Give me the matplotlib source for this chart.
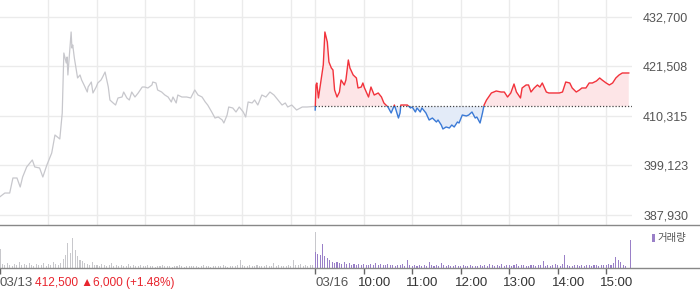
import matplotlib
matplotlib.use('Agg')
import matplotlib.pyplot as plt
from matplotlib.patches import Rectangle
from matplotlib.lines import Line2D
import matplotlib.transforms as mtransforms

plt.rcParams['font.family'] = ['Liberation Sans', 'Noto Sans CJK KR', 'DejaVu Sans']

# -----------------------------
# data: minutes after 09:00 and price
# -----------------------------
day1_min = [0, 6, 12, 16, 21, 25, 28, 33, 40, 43, 49, 53, 58, 64, 68, 74, 77, 79, 82, 83,
            84, 87, 88, 89, 90, 92, 94, 96, 99, 101, 104, 108, 109, 113, 115, 119, 121, 125,
            127, 130, 134, 136, 140, 143, 146, 151, 153, 157, 160, 163, 167, 171, 176, 179,
            183, 188, 189, 193, 195, 200, 204, 208, 212, 214, 218, 220, 225, 231, 236, 241,
            245, 250, 254, 257, 262, 266, 270, 275, 277, 281, 283, 288, 292, 296, 301, 304,
            307, 312, 315, 319, 324, 329, 334, 339, 344, 349, 353, 356, 361, 367, 374, 380,
            390]
day1_price = [392070, 392900, 392900, 396300, 396300, 394260, 396520, 398790, 400370, 398790,
              398560, 396520, 399240, 401950, 406020, 405120, 410990, 424560, 422300, 423660,
              419590, 426820, 429310, 425690, 426370, 423430, 421170, 418910, 419590, 418460,
              417330, 415740, 416870, 418000, 415520, 416870, 417780, 418460, 419130, 420260,
              416870, 413930, 413260, 412800, 414390, 414610, 415740, 414390, 413930, 415740,
              414610, 415520, 416870, 416870, 416650, 417330, 418000, 417780, 416200, 415740,
              415060, 414610, 413480, 414610, 413260, 415060, 414610, 414610, 414390, 416200,
              415060, 414610, 413480, 412800, 411220, 409860, 410090, 409410, 408730, 410540,
              412350, 412130, 411220, 412350, 411220, 410090, 413480, 413260, 413930, 412800,
              415060, 414610, 415740, 415060, 413930, 412800, 413260, 412350, 412800, 411670,
              412350, 412350, 412500]

day2_min = [0, 1, 2, 4, 6, 10, 12, 15, 16, 17, 20, 22, 24, 27, 30, 32, 36, 38, 41, 43, 47,
            51, 53, 57, 59, 61, 66, 69, 73, 78, 82, 85, 90, 94, 98, 100, 103, 105, 106, 110,
            114, 118, 120, 124, 126, 130, 132, 137, 141, 145, 150, 152, 156, 158, 162, 166,
            169, 172, 176, 178, 182, 187, 190, 194, 198, 200, 204, 207, 209, 212, 218, 224,
            230, 234, 238, 242, 246, 249, 254, 256, 261, 264, 267, 271, 275, 278, 281, 286,
            289, 296, 302, 306, 310, 315, 318, 323, 327, 330, 335, 339, 343, 348, 352, 355,
            360, 364, 368, 372, 376, 380, 388]
day2_price = [411670, 417330, 417780, 414390, 416870, 421850, 429310, 427050, 424790, 422530,
              421170, 420720, 416200, 414610, 415740, 418460, 417330, 418460, 422980, 421170,
              419590, 418910, 416650, 416870, 417780, 416650, 414610, 416870, 415060, 415520,
              414610, 413260, 412350, 411000, 412800, 411670, 409860, 411000, 412800, 412800,
              412800, 412130, 412350, 411220, 412130, 411220, 412130, 411000, 409410, 409860,
              408960, 409410, 408280, 407380, 407830, 407600, 408280, 407830, 408960, 408730,
              410540, 410320, 410540, 411220, 409860, 410090, 408730, 411000, 412800, 413930,
              415520, 415970, 415740, 415740, 414610, 415520, 417550, 415740, 414390, 416650,
              417330, 417330, 415740, 416650, 417330, 416870, 417780, 415740, 415520, 415520,
              415520, 415740, 418000, 417780, 416650, 415740, 416200, 416650, 416650, 417780,
              417780, 418230, 418910, 418460, 417780, 417330, 417780, 418910, 419590, 420040,
              420040]

prev_close = 412500
ytick_vals = [387930, 399123, 410315, 421508, 432700]

# volume, one bar per 3 minutes (last entry is closing auction at 15:30)
vol_step = 3
day1_vol = [19, 4, 3, 5, 3, 2, 4, 3, 6, 3,
            4, 3, 5, 3, 2, 4, 3, 3, 5, 2,
            4, 3, 6, 4, 3, 5, 9, 13, 25, 15,
            30, 18, 12, 8, 7, 5, 4, 3, 6, 3,
            3, 2, 4, 3, 2, 3, 5, 2, 3, 2,
            3, 2, 2, 4, 2, 3, 2, 2, 3, 2,
            2, 3, 2, 2, 1, 2, 2, 3, 2, 2,
            2, 1, 2, 2, 3, 2, 1, 2, 2, 2,
            2, 2, 1, 2, 3, 2, 2, 1, 2, 2,
            2, 2, 3, 2, 1, 2, 2, 2, 3, 8,
            3, 2, 2, 3, 2, 2, 3, 2, 2, 2,
            3, 2, 2, 5, 2, 3, 2, 2, 2, 3,
            2, 8, 3, 3, 4, 2, 3, 2, 3, 3, 36]
day2_vol = [16, 14, 13, 24, 12, 10, 8, 6, 5, 6,
            5, 4, 6, 4, 5, 3, 4, 3, 4, 3,
            4, 3, 3, 4, 3, 5, 3, 4, 3, 3,
            4, 3, 3, 2, 3, 3, 4, 2, 8, 3,
            2, 3, 2, 3, 2, 3, 2, 6, 3, 2,
            3, 2, 5, 3, 2, 3, 2, 2, 3, 2,
            2, 3, 2, 2, 3, 2, 2, 2, 3, 2,
            3, 2, 4, 3, 2, 3, 2, 4, 2, 3,
            3, 2, 3, 4, 2, 3, 3, 2, 2, 3,
            3, 2, 3, 3, 7, 2, 3, 2, 3, 4,
            3, 2, 4, 13, 3, 2, 2, 3, 3, 2,
            3, 2, 3, 3, 2, 3, 3, 2, 3, 3,
            3, 4, 3, 5, 11, 8, 6, 3, 2, 0, 28]

hour_labels = ['10:00', '11:00', '12:00', '13:00', '14:00', '15:00']
day_labels = ['03/13', '03/16']
change_text = '412,500 \u25b26,000 (+1.48%)'

# -----------------------------
# layout
# -----------------------------
W, H = 700, 289
fig = plt.figure(figsize=(7, 2.89), dpi=100)
ax = fig.add_axes([0, 1 - 225 / H, 632 / W, 225 / H])
axv = fig.add_axes([0, 1 - 268 / H, 632 / W, 42 / H])

day2_off = 390
x2 = [m + day2_off for m in day2_min]
xmax = 782

red = '#f2333c'
blue = '#3b7ad6'
gray_line = '#c7c7cc'

ax.plot(day1_min, day1_price, color=gray_line, lw=0.9)

ax.fill_between(x2, day2_price, prev_close, where=[p >= prev_close for p in day2_price],
                interpolate=True, color='#fde5e7', lw=0)
ax.fill_between(x2, day2_price, prev_close, where=[p <= prev_close for p in day2_price],
                interpolate=True, color='#e3ebf8', lw=0)

ymin, ymax = 385669, 436544
up, = ax.plot(x2, day2_price, color=red, lw=1.0)
dn, = ax.plot(x2, day2_price, color=blue, lw=1.0)
up.set_clip_path(Rectangle((0, prev_close), xmax, ymax - prev_close, transform=ax.transData))
dn.set_clip_path(Rectangle((0, ymin), xmax, prev_close - ymin, transform=ax.transData))

ax.plot([day2_off, xmax], [prev_close, prev_close], color='#444444', lw=0.9, ls=(0, (1, 1.5)))

ax.set_xlim(0, xmax)
ax.set_ylim(ymin, ymax)
grid_x = [60, 120, 180, 240, 300, 360, 390, 450, 510, 570, 630, 690, 750]
ax.set_xticks(grid_x)
ax.set_xticklabels([])
ax.set_yticks(ytick_vals)
ax.set_yticklabels([f'{v:,}' for v in ytick_vals], color='#555555', fontsize=9)
ax.yaxis.tick_right()
ax.tick_params(axis='both', length=0)
ax.tick_params(axis='y', pad=8)
ax.grid(True, color='#ebebeb', lw=1)
ax.set_axisbelow(True)
for s in ax.spines.values():
    s.set_visible(False)

# volume
v1x = [i * vol_step for i in range(len(day1_vol) - 1)] + [390]
v2x = [i * vol_step + day2_off for i in range(len(day2_vol) - 1)] + [day2_off + 390]
axv.bar(v1x, day1_vol, width=1.3, color='#c8c8cc', lw=0)
axv.bar(v2x, day2_vol, width=1.3, color='#9a80c8', lw=0)
axv.set_xlim(0, xmax)
axv.set_ylim(0, 42)
axv.set_yticks([])
tick_x = [0, 390, 450, 510, 570, 630, 690, 750]
axv.set_xticks(tick_x)
axv.set_xticklabels([])
axv.tick_params(axis='x', length=4, color='#666666', width=1)
for s in axv.spines.values():
    s.set_visible(False)

# full width separator lines
for yy in (225, 268):
    fig.add_artist(Line2D([0, 1], [1 - yy / H] * 2, transform=fig.transFigure,
                          color='#888888', lw=1))

# x labels
lab_y = 1 - 283 / H
trans = mtransforms.blended_transform_factory(axv.transData, fig.transFigure)
shift = trans + mtransforms.ScaledTranslation(-6 / 100, 0, fig.dpi_scale_trans)
axv.text(0, lab_y, day_labels[0], transform=trans, ha='left', va='center',
         fontsize=9.5, color='#555555')
fig.text(35 / W, lab_y, change_text, ha='left', va='center', fontsize=8.6, color='#e8252e')
axv.text(day2_off, lab_y, day_labels[1], transform=trans, ha='left', va='center',
         fontsize=9.5, color='#555555')
for xx, lab in zip(tick_x[2:], hour_labels):
    axv.text(xx, lab_y, lab, transform=shift, ha='left', va='center',
             fontsize=9.5, color='#333333')

# volume legend
fig.add_artist(Rectangle((652 / W, 1 - 242 / H), 2.5 / W, 8 / H, transform=fig.transFigure,
                         color='#9a80c8', lw=0))
fig.text(657 / W, 1 - 238 / H, '거래량', ha='left', va='center', fontsize=7.5, color='#555555')

fig.savefig('out.png', dpi=100)
